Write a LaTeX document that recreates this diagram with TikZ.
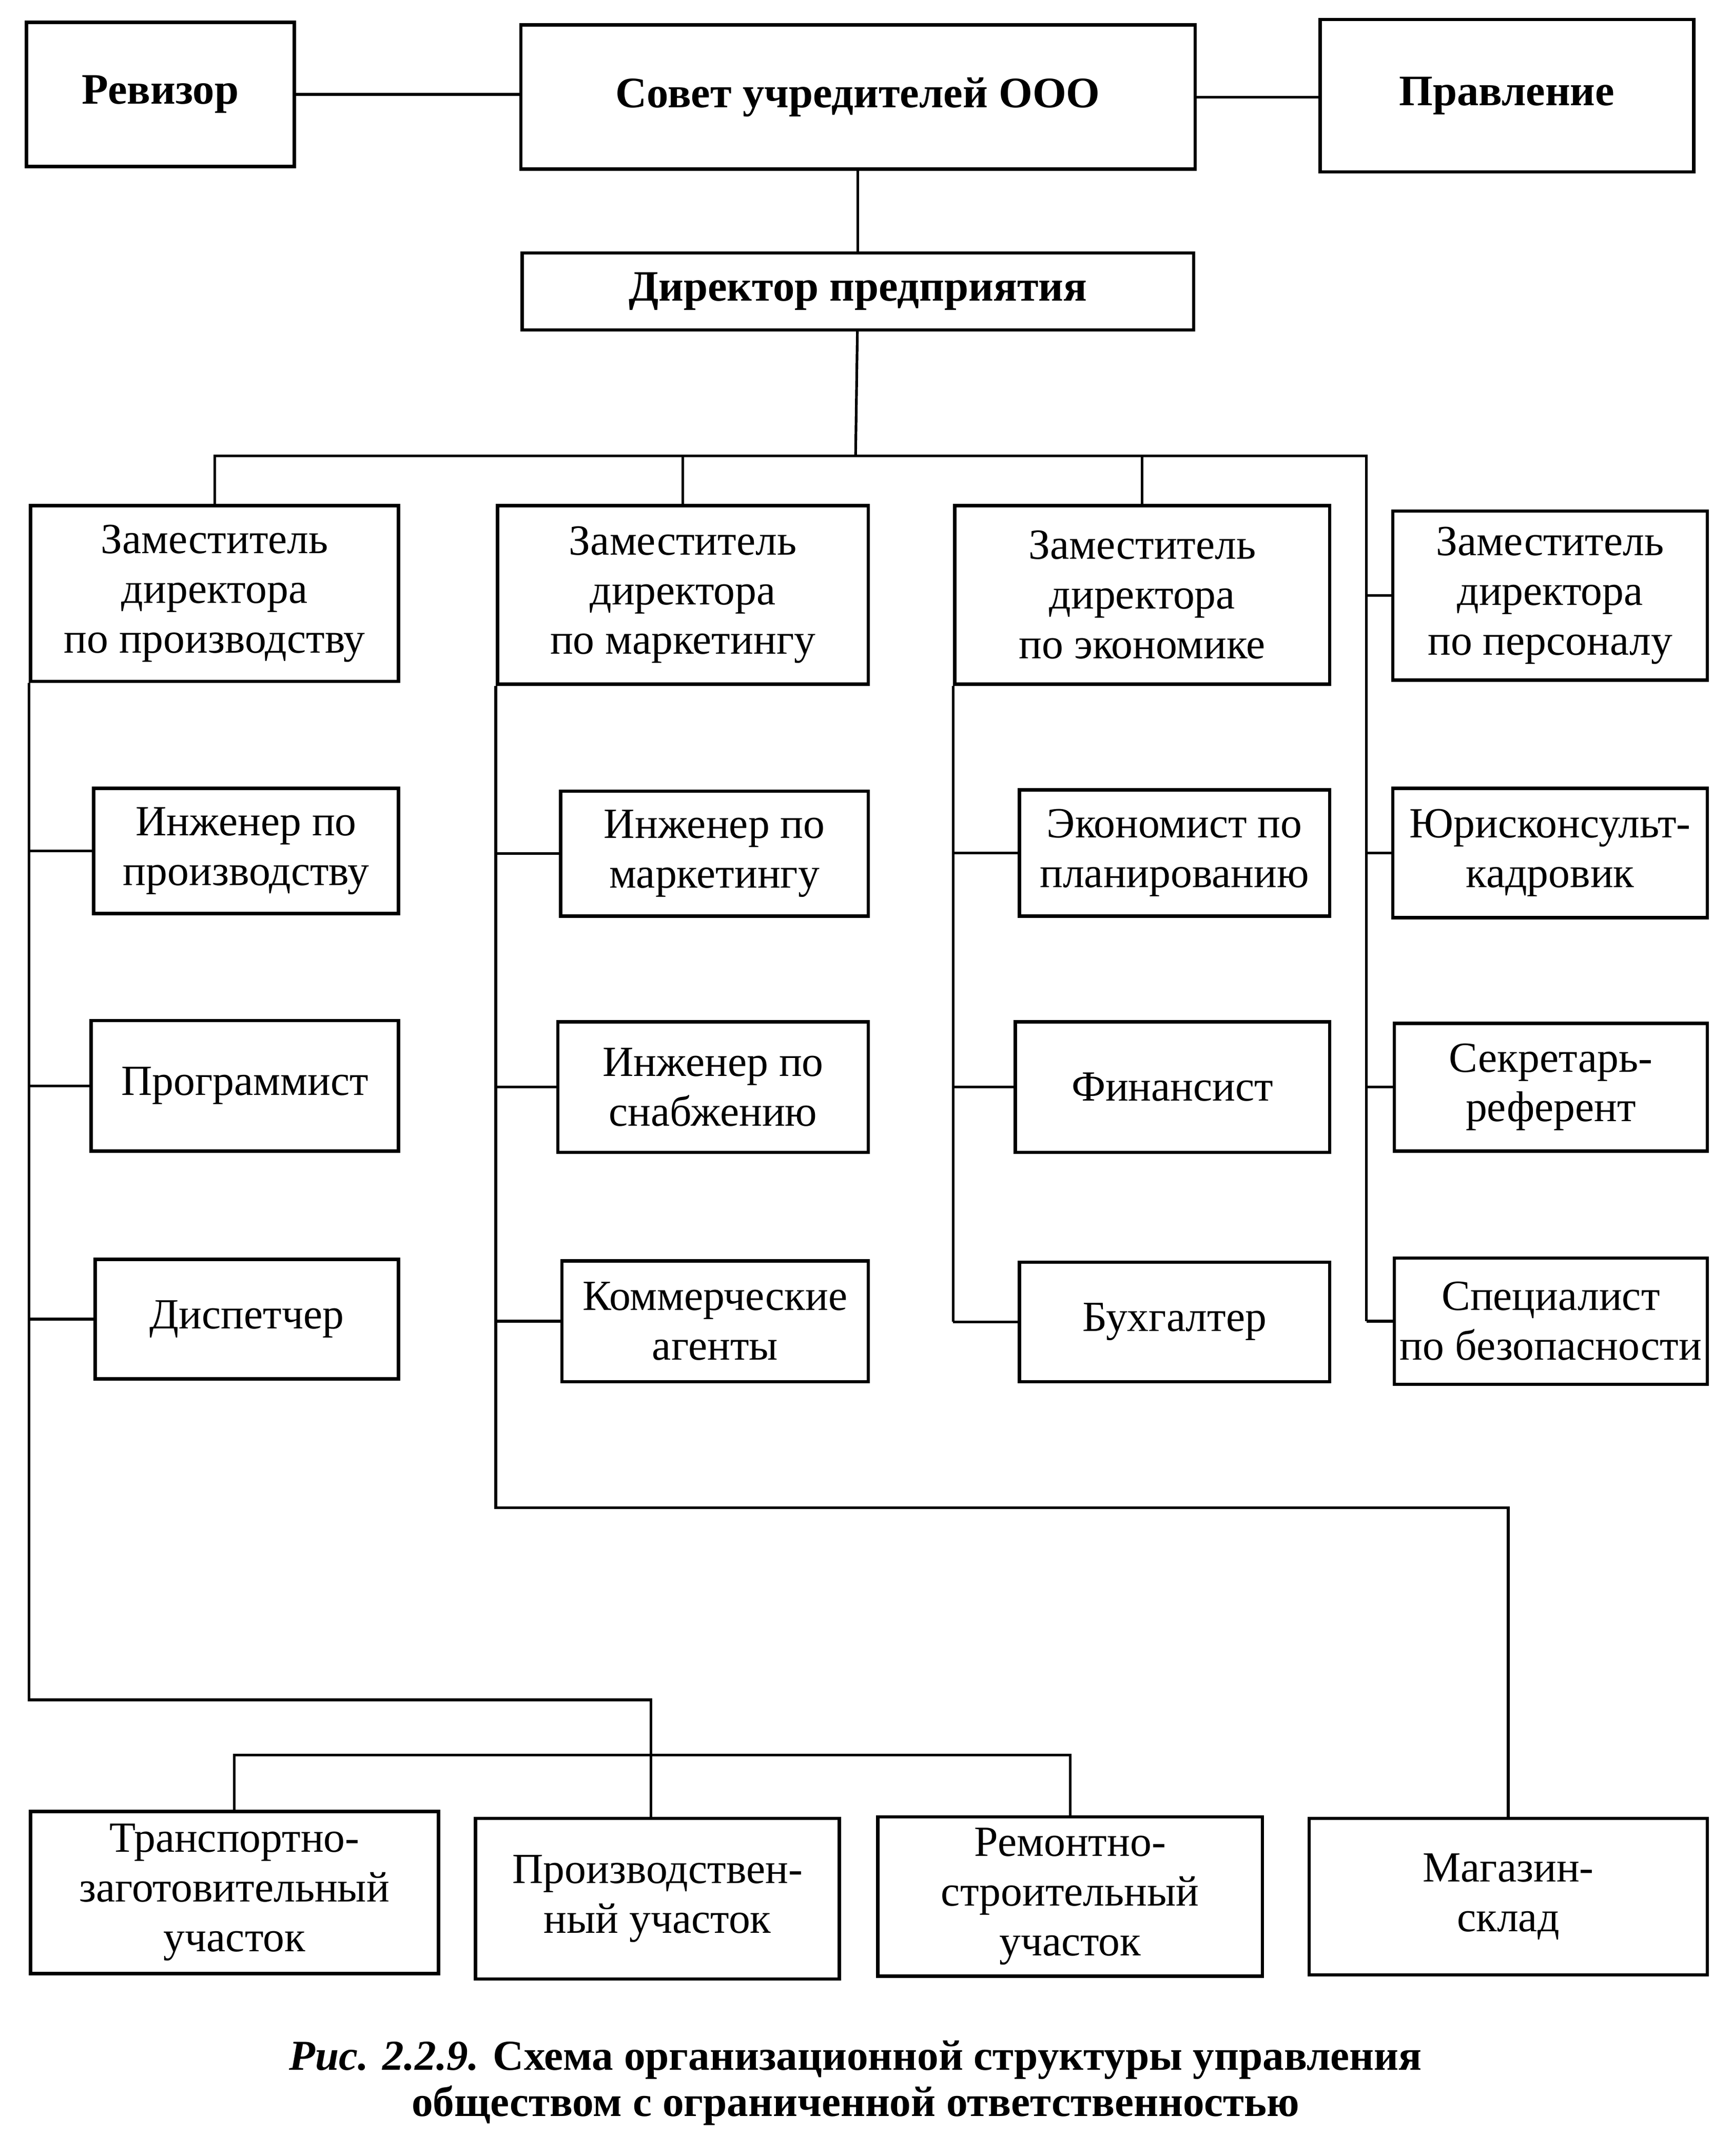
\documentclass[tikz,border=0pt]{standalone}
\usepackage{fontspec}
\setmainfont{Liberation Serif}
\usetikzlibrary{calc}

\tikzset{
  box/.style={draw, line width=1.4pt, anchor=north west, align=center,
    inner sep=0pt, font=\fontsize{17.8}{20.6}\selectfont},
  topbox/.style={box, font=\fontsize{18}{21}\selectfont\bfseries},
  wd/.style={minimum width=#1*0.02cm},
  ht/.style={minimum height=#1*0.02cm},
  link/.style={line width=1.1pt}
}

\begin{document}
\begin{tikzpicture}[x=0.02cm,y=-0.02cm]
\useasboundingbox (0,0) rectangle (1247,1570.2);
% top of the structure
\node[topbox, wd=195, ht=105] (rev) at (18,15) {Ревизор};
\node[topbox, wd=491, ht=105] (sovet) at (378,17) {Совет учредителей ООО};
\node[topbox, wd=272, ht=111] (pravl) at (960,13) {Правление};
\node[topbox, wd=489, ht=56] (dir) at (379,183) {Директор предприятия};
% deputies
\node[box, wd=268, ht=128] (zprod) at (21,367) {Заместитель\\директора\\по производству};
\node[box, wd=270, ht=130] (zmark) at (361,367) {Заместитель\\директора\\по маркетингу};
\node[box, wd=273, ht=130] (zecon) at (694,367) {Заместитель\\директора\\по экономике};
\node[box, wd=229, ht=123] (zpers) at (1013,371) {Заместитель\\директора\\по персоналу};
% staff
\node[box, wd=222, ht=91] (ingprod) at (67,573) {Инженер по\\производству};
\node[box, wd=224, ht=95] (prog) at (65,742) {Программист};
\node[box, wd=221, ht=87] (disp) at (68,916) {Диспетчер};
\node[box, wd=224, ht=91] (ingmark) at (407,575) {Инженер по\\маркетингу};
\node[box, wd=226, ht=95] (snab) at (405,743) {Инженер по\\снабжению};
\node[box, wd=223, ht=88] (agent) at (408,917) {Коммерческие\\агенты};
\node[box, wd=226, ht=92] (plan) at (741,574) {Экономист по\\планированию};
\node[box, wd=229, ht=95] (fin) at (738,743) {Финансист};
\node[box, wd=226, ht=87] (buh) at (741,918) {Бухгалтер};
\node[box, wd=229, ht=94] (jur) at (1013,573) {Юрисконсульт-\\кадровик};
\node[box, wd=228, ht=93] (sekr) at (1014,744) {Секретарь-\\референт};
\node[box, wd=228, ht=92] (spec) at (1014,915) {Специалист\\по безопасности};
% units
\node[box, wd=297, ht=118] (trans) at (21,1318) {Транспортно-\\заготовительный\\участок};
\node[box, wd=265, ht=117] (proizv) at (345,1323) {Производствен-\\ный участок};
\node[box, wd=280, ht=116] (remont) at (638,1322) {Ремонтно-\\строительный\\участок};
\node[box, wd=290, ht=114] (mag) at (952,1323) {Магазин-\\склад};

\coordinate (bus) at (623,332);
\coordinate (colP) at (995,332);
\coordinate (lowA) at (474,1238);
\coordinate (busB) at (474,1278);
\coordinate (lowB) at (361,1098);

\draw[link] (rev.east) -- (rev.east -| sovet.west);
\draw[link] (sovet.east) -- (sovet.east -| pravl.west);
\draw[link] (sovet) -- (dir);
\draw[link] (dir) -- (bus);
\draw[link] (zprod.north) |- (colP) -- (colP |- spec.west);
\draw[link] (zmark.north) -- (zmark.north |- bus);
\draw[link] (zecon.north) -- (zecon.north |- bus);
\foreach \n in {zpers,jur,sekr,spec}% personnel column
  \draw[link] (colP |- \n.west) -- (\n.west);
\draw[link] (zprod.south west) -- (zprod.south west |- lowA) -- (lowA) -- (lowA |- proizv.north);
\draw[link] (trans.north) |- (busB) -| (remont.north);
\foreach \n in {ingprod,prog,disp}% production column
  \draw[link] (zprod.south west |- \n.west) -- (\n.west);
\draw[link] (zmark.south west) -- (zmark.south west |- lowB) -| (mag.north);
\foreach \n in {ingmark,snab,agent}% marketing column
  \draw[link] (zmark.south west |- \n.west) -- (\n.west);
\draw[link] (zecon.south west) -- (zecon.south west |- buh.west);
\foreach \n in {plan,fin,buh}% economics column
  \draw[link] (zecon.south west |- \n.west) -- (\n.west);

\node[font=\fontsize{17.7}{19}\selectfont\bfseries, align=center] (caption) at (623,1517)
  {\textit{Рис. 2.2.9.} Схема организационной структуры управления\\обществом с ограниченной ответственностью};
\end{tikzpicture}
\end{document}
